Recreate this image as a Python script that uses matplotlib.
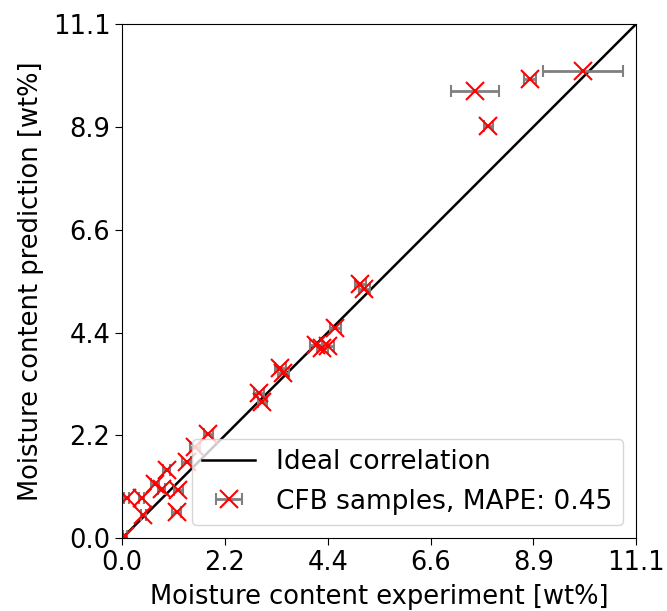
import matplotlib
matplotlib.use("Agg")
import matplotlib.pyplot as plt
import numpy as np

axis_max = 11.08
tick_values = [0.0, 2.216, 4.432, 6.648, 8.864, 11.08]
tick_labels = ["0.0", "2.2", "4.4", "6.6", "8.9", "11.1"]

exp_vals = [0.06, 0.10, 0.42, 0.46, 0.71, 0.85, 0.96, 1.18, 1.21, 1.39, 1.57, 1.86,
            2.95, 3.02, 3.41, 3.47, 4.18, 4.31, 4.44, 4.59, 5.13, 5.22,
            7.61, 7.89, 8.79, 9.94]
pred_vals = [0.06, 0.86, 0.86, 0.50, 1.18, 1.07, 1.47, 0.57, 1.05, 1.64, 1.97, 2.24,
             3.13, 2.93, 3.66, 3.56, 4.16, 4.09, 4.14, 4.53, 5.47, 5.37,
             9.63, 8.88, 9.89, 10.06]
exp_err = [0.05, 0.05, 0.05, 0.05, 0.08, 0.08, 0.08, 0.1, 0.1, 0.1, 0.1, 0.1,
           0.1, 0.1, 0.12, 0.12, 0.12, 0.12, 0.12, 0.12, 0.12, 0.12,
           0.52, 0.1, 0.12, 0.86]

fig = plt.figure(figsize=(6.67, 6.11), dpi=100)
ax = fig.add_axes([0.183, 0.119, 0.771, 0.842])

ax.plot([0, axis_max], [0, axis_max], color="black", lw=1.8, label="Ideal correlation")
ax.errorbar(exp_vals, pred_vals, xerr=exp_err, fmt="x", color="red", ms=13, mew=1.5,
            ecolor="grey", elinewidth=2, capsize=4, capthick=1.5,
            label="CFB samples, MAPE: 0.45")

ax.set_xlim(0, axis_max)
ax.set_ylim(0, axis_max)
ax.set_xticks(tick_values)
ax.set_xticklabels(tick_labels)
ax.set_yticks(tick_values)
ax.set_yticklabels(tick_labels)
ax.tick_params(labelsize=18.5, length=5)
ax.set_xlabel("Moisture content experiment [wt%]", fontsize=18.5, labelpad=6)
ax.set_ylabel("Moisture content prediction [wt%]", fontsize=18.5, labelpad=6)
ax.legend(loc="lower right", fontsize=19)

fig.savefig("out.png", dpi=100)
